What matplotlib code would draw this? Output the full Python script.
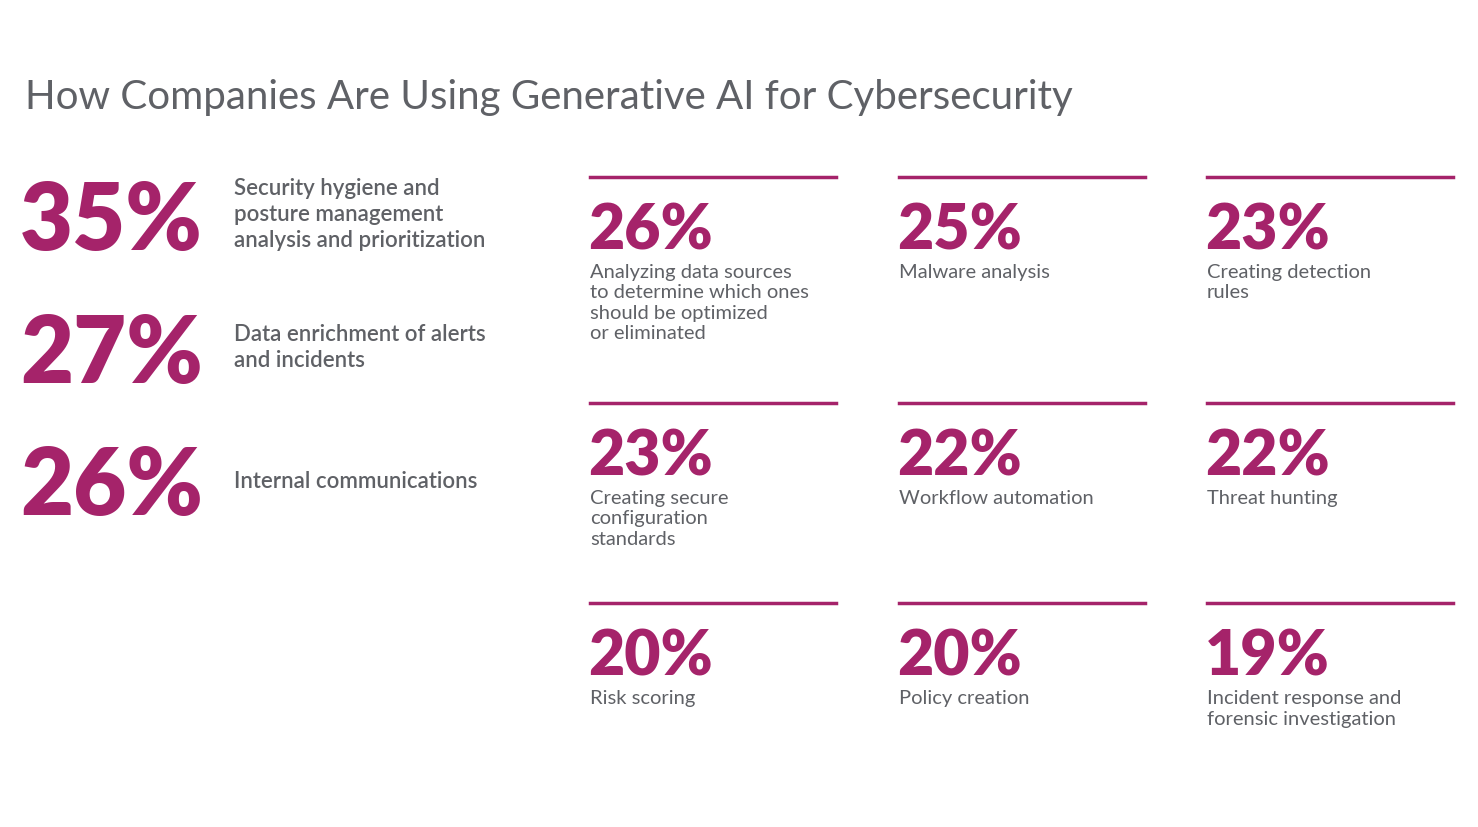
import matplotlib.pyplot as plt
from matplotlib.lines import Line2D

W, H = 1478, 828
MAGENTA = "#A5236A"
GREY = "#5f6166"

title = "How Companies Are Using Generative AI for Cybersecurity"

left_values = [35, 27, 26]
left_labels = ["Security hygiene and\nposture management\nanalysis and prioritization",
               "Data enrichment of alerts\nand incidents",
               "Internal communications"]

grid_values = [26, 25, 23, 23, 22, 22, 20, 20, 19]
grid_labels = ["Analyzing data sources\nto determine which ones\nshould be optimized\nor eliminated",
               "Malware analysis",
               "Creating detection\nrules",
               "Creating secure\nconfiguration\nstandards",
               "Workflow automation",
               "Threat hunting",
               "Risk scoring",
               "Policy creation",
               "Incident response and\nforensic investigation"]

plt.rcParams['font.family'] = ['Lato', 'DejaVu Sans']
fig = plt.figure(figsize=(W / 100, H / 100), dpi=100)
fig.patch.set_facecolor("white")


def fx(x):
    return x / W


def fy(y):
    return 1 - y / H


fig.text(fx(25), fy(98), title, fontsize=29, color=GREY, va="center", ha="left")

# left column, big numbers
left_base = [250, 383, 515]
left_label_top = [178, 324, 471]
for v, lab, b, t in zip(left_values, left_labels, left_base, left_label_top):
    fig.text(fx(20), fy(b), f"{v}%", fontsize=66, fontweight="heavy", color=MAGENTA,
             va="baseline", ha="left")
    fig.text(fx(234), fy(t), lab, fontsize=16, color=GREY, va="top", ha="left",
             linespacing=1.3, fontweight="semibold")

# grid on the right
col_x = [590, 899, 1207]
row_line = [178, 404, 604]
for i, (v, lab) in enumerate(zip(grid_values, grid_labels)):
    x = col_x[i % 3]
    y = row_line[i // 3]
    fig.add_artist(Line2D([fx(x), fx(x + 246)], [fy(y), fy(y)], color=MAGENTA, lw=2.5))
    fig.text(fx(x - 2), fy(y + 72), f"{v}%", fontsize=45, fontweight="heavy", color=MAGENTA,
             va="baseline", ha="left")
    fig.text(fx(x), fy(y + 86), lab, fontsize=14.5, color=GREY, va="top", ha="left",
             linespacing=1.25)

fig.savefig("out.png", dpi=100, facecolor="white")
